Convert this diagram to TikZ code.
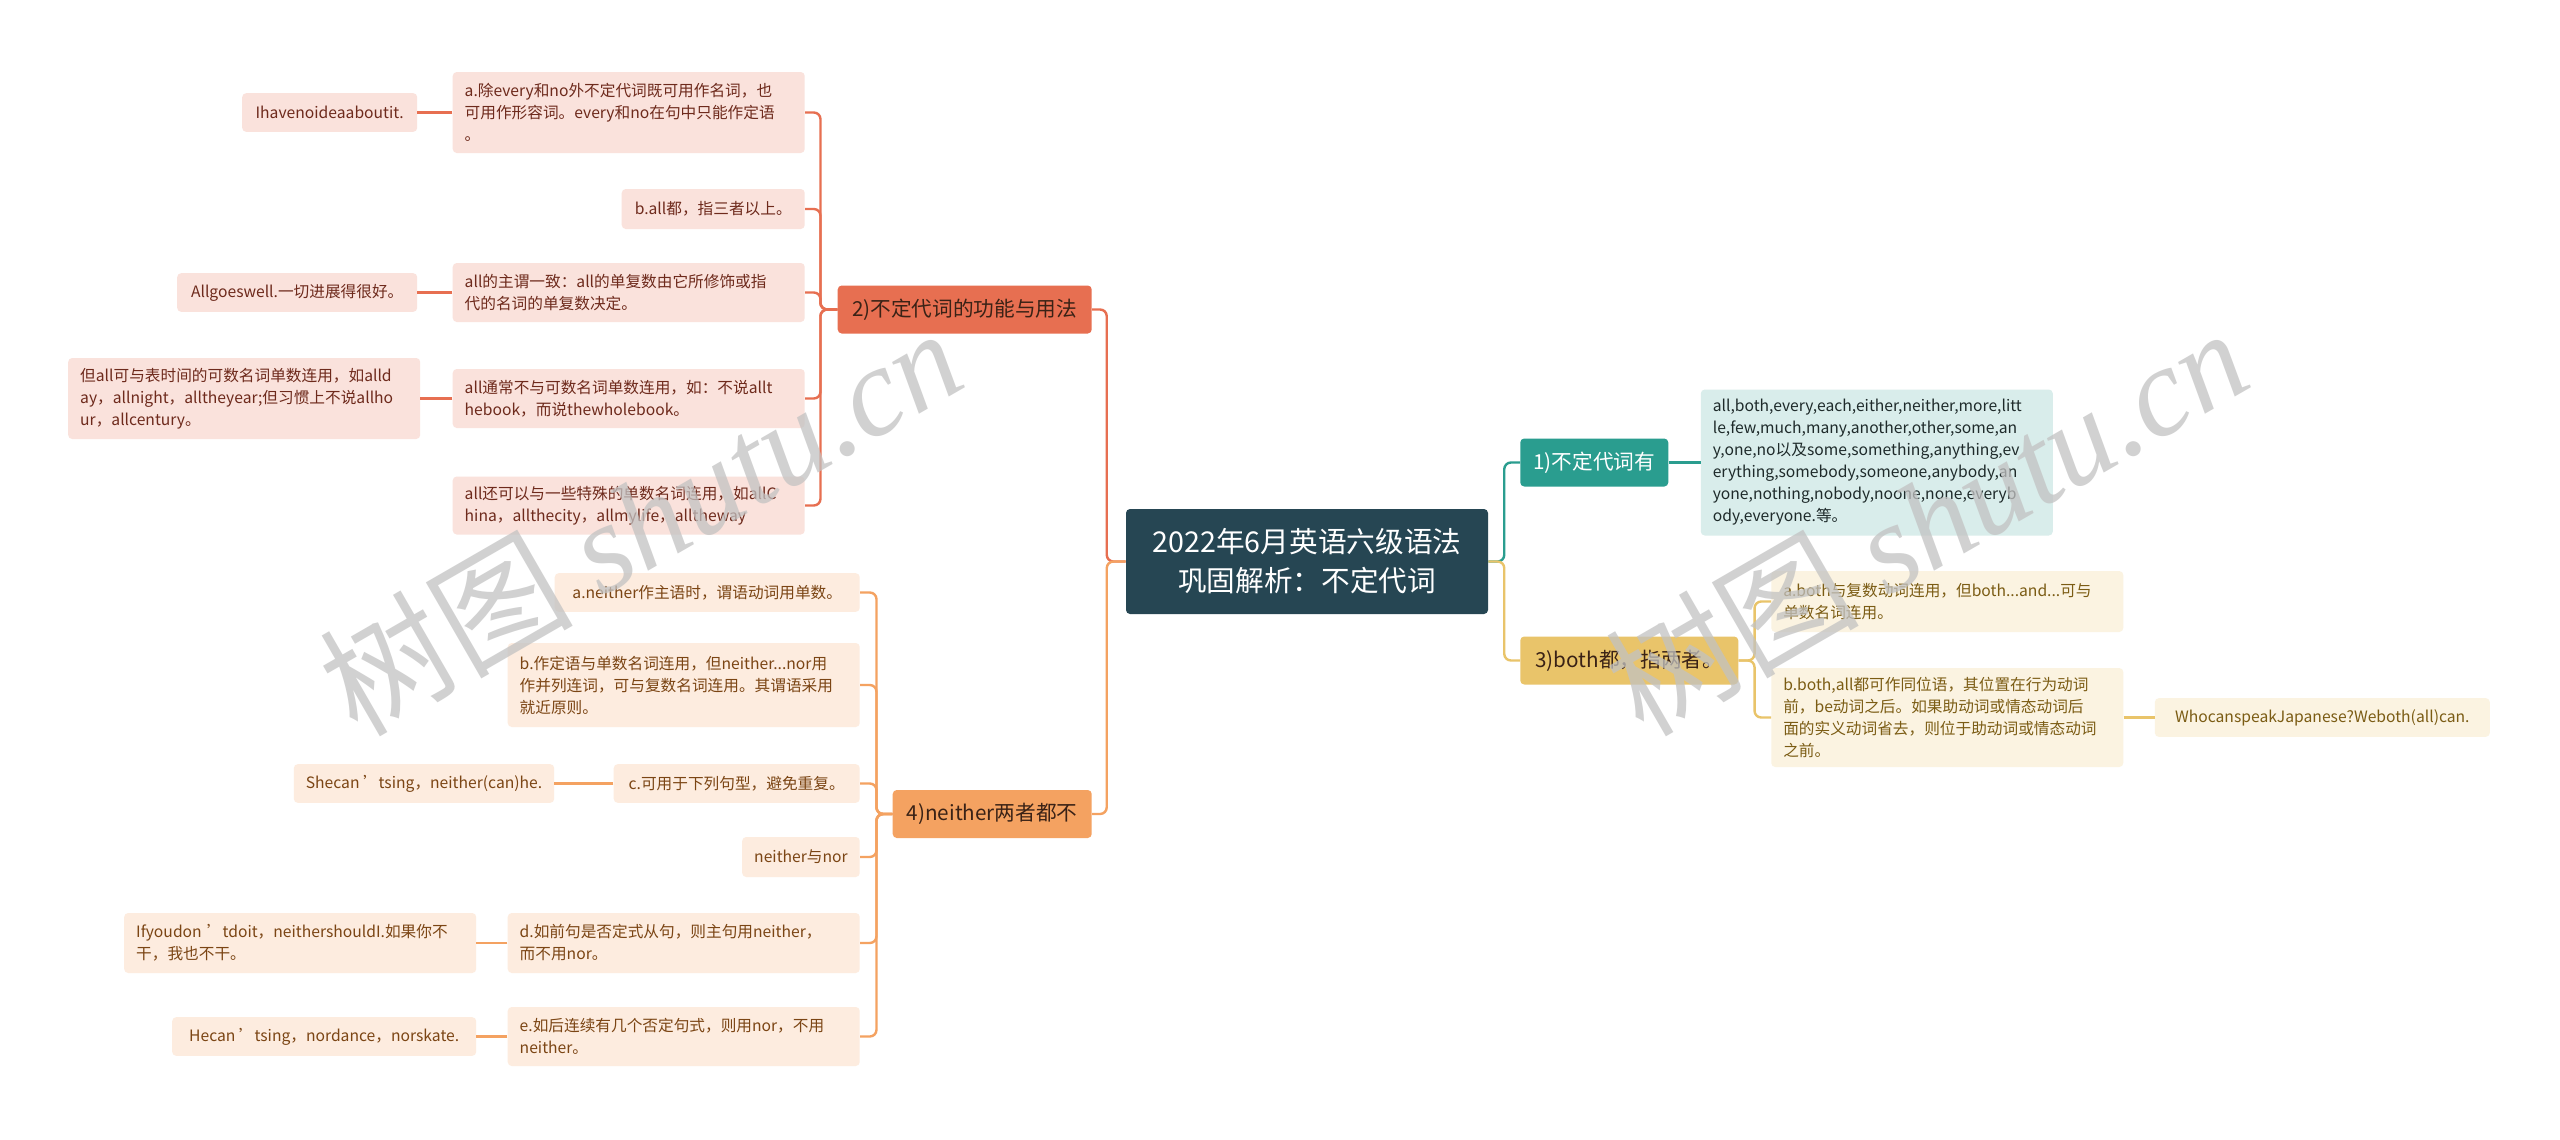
\documentclass[tikz,border=0pt]{standalone}
\usepackage{fontspec}
\setmainfont{Noto Sans CJK SC}
\newfontfamily\markserif{Liberation Serif}
\usepackage{xcolor}
\usepackage{tikz}
\usetikzlibrary{positioning}
\definecolor{rootc}{HTML}{264653}
\definecolor{c1}{HTML}{2A9D8F}
\definecolor{c2}{HTML}{E76F51}
\definecolor{c3}{HTML}{E9C46A}
\definecolor{c4}{HTML}{F4A261}
\definecolor{t1}{HTML}{1E2A2A}
\definecolor{t2}{HTML}{6E2A1C}
\definecolor{t3}{HTML}{7B5C14}
\definecolor{t4}{HTML}{7B4514}
\definecolor{bt}{HTML}{3A2216}
\newcommand{\leaffont}{\fontsize{11.75pt}{16.5pt}\selectfont}
\newcommand{\branchfont}{\fontsize{15.5pt}{18pt}\selectfont}
\newcommand{\rootfont}{\fontsize{21.5pt}{29.25pt}\selectfont}
\newcommand{\markfont}{\fontsize{95pt}{95pt}\selectfont}
\tikzstyle{rootbox} = [rectangle, rounded corners=3pt, fill=rootc, text=white, font=\rootfont, align=center, minimum width=271.5pt, minimum height=78.75pt, inner sep=0pt]
\tikzstyle{branch} = [rectangle, rounded corners=3pt, font=\branchfont, minimum height=36pt, inner sep=0pt]
\tikzstyle{leaf} = [rectangle, rounded corners=3pt, font=\leaffont, align=left, inner xsep=9pt, inner ysep=0pt, minimum height=29pt]
\tikzstyle{wide} = [text width=246pt]
\tikzstyle{leaf1} = [leaf, fill=c1!18, text=t1]
\tikzstyle{leaf2} = [leaf, fill=c2!20, text=t2]
\tikzstyle{leaf3} = [leaf, fill=c3!20, text=t3]
\tikzstyle{leaf4} = [leaf, fill=c4!20, text=t4]
\tikzstyle{link1} = [draw=c1, line width=1.8pt, rounded corners=5pt]
\tikzstyle{link2} = [draw=c2, line width=1.8pt, rounded corners=5pt]
\tikzstyle{link3} = [draw=c3, line width=1.8pt, rounded corners=5pt]
\tikzstyle{link4} = [draw=c4, line width=1.8pt, rounded corners=5pt]
\tikzstyle{wmark} = [font=\markfont, text=black!24, text opacity=0.75, rotate=30]

\begin{document}
\begin{tikzpicture}[x=0.75pt, y=-0.75pt]
                  \path [fill=white] (0,0) rectangle (2560,1139);
                  \useasboundingbox (0,0) rectangle (2560,1139);
                  \node (root) [rootbox] at (1307,561.5) {2022年6月英语六级语法\\巩固解析：不定代词};

                  \node (b1) [branch, fill=c1, text=white, minimum width=111pt, anchor=west] at (1520,462.5) {1)不定代词有};
                  \node (b1c) [leaf1, wide, minimum height=109.5pt, right=24pt of b1] {all,both,every,each,either,neither,more,litt\\le,few,much,many,another,other,some,an\\y,one,no以及some,something,anything,ev\\erything,somebody,someone,anybody,an\\yone,nothing,nobody,noone,none,everyb\\ody,everyone.等。};

                  \node (b3) [branch, fill=c3, text=bt, minimum width=163.5pt, anchor=west] at (1520,660.5) {3)both都，指两者。};
                  \node (b3a) [leaf3, wide, minimum height=45.75pt, anchor=west] at (1771,601.5) {a.both与复数动词连用，但both...and...可与\\单数名词连用。};
                  \node (b3b) [leaf3, wide, minimum height=74.25pt, anchor=west] at (1771,717.5) {b.both,all都可作同位语，其位置在行为动词\\前，be动词之后。如果助动词或情态动词后\\面的实义动词省去，则位于助动词或情态动词\\之前。};
                  \node (b3bc) [leaf3, minimum width=251.25pt, right=23.25pt of b3b] {WhocanspeakJapanese?Weboth(all)can.};

                  \node (b2) [branch, fill=c2, text=bt, minimum width=190.5pt, anchor=east] at (1092,309.5) {2)不定代词的功能与用法};
                  \node (b2a) [leaf2, wide, minimum height=60.75pt, anchor=east] at (805,112.5) {a.除every和no外不定代词既可用作名词，也\\可用作形容词。every和no在句中只能作定语\\。};
                  \node (b2ac) [leaf2, minimum width=131.25pt, left=26.25pt of b2a] {Ihavenoideaaboutit.};
                  \node (b2b) [leaf2, minimum width=137.25pt, minimum height=30pt, anchor=east] at (805,209) {b.all都，指三者以上。};
                  \node (b2c) [leaf2, wide, minimum height=44.25pt, anchor=east] at (805,292.5) {all的主谓一致：all的单复数由它所修饰或指\\代的名词的单复数决定。};
                  \node (b2cc) [leaf2, minimum width=180pt, left=26.25pt of b2c] {Allgoeswell.一切进展得很好。};
                  \node (b2d) [leaf2, wide, minimum height=44.25pt, anchor=east] at (805,398.5) {all通常不与可数名词单数连用，如：不说allt\\hebook，而说thewholebook。};
                  \node (b2dc) [leaf2, wide, minimum height=60.75pt, left=24pt of b2d] {但all可与表时间的可数名词单数连用，如alld\\ay，allnight，alltheyear;但习惯上不说allho\\ur，allcentury。};
                  \node (b2e) [leaf2, wide, minimum height=43.5pt, anchor=east] at (805,505.5) {all还可以与一些特殊的单数名词连用，如allC\\hina，allthecity，allmylife，alltheway};

                  \node (b4) [branch, fill=c4, text=bt, minimum width=149.25pt, anchor=east] at (1092,814) {4)neither两者都不};
                  \node (b4a) [leaf4, minimum width=228.75pt, anchor=east] at (860,592.5) {a.neither作主语时，谓语动词用单数。};
                  \node (b4b) [leaf4, wide, minimum height=63pt, anchor=east] at (860,685) {b.作定语与单数名词连用，但neither...nor用\\作并列连词，可与复数名词连用。其谓语采用\\就近原则。};
                  \node (b4c) [leaf4, minimum width=184.5pt, anchor=east] at (860,783.5) {c.可用于下列句型，避免重复。};
                  \node (b4cc) [leaf4, minimum width=178.5pt, left=44.25pt of b4c] {Shecan ’tsing，neither(can)he.};
                  \node (b4n) [leaf4, minimum width=86.25pt, minimum height=30pt, anchor=east] at (860,857) {neither与nor};
                  \node (b4d) [leaf4, wide, minimum height=45pt, anchor=east] at (860,943) {d.如前句是否定式从句，则主句用neither，\\而不用nor。};
                  \node (b4dc) [leaf4, wide, minimum height=45pt, left=23.25pt of b4d] {Ifyoudon ’tdoit，neithershouldI.如果你不\\干，我也不干。};
                  \node (b4e) [leaf4, wide, minimum height=44.25pt, anchor=east] at (860,1036.5) {e.如后连续有几个否定句式，则用nor，不用\\neither。};
                  \node (b4ec) [leaf4, minimum width=228pt, left=23.25pt of b4e] {Hecan ’tsing，nordance，norskate.};

                  \draw [link2] (root.west) -- ++(-19,0) |- (b2.east);
                  \draw [link4] (root.west) -- ++(-19,0) |- (b4.east);
                  \draw [link1] (root.east) -- ++(16,0) |- (b1.west);
                  \draw [link3] (root.east) -- ++(16,0) |- (b3.west);

                  \draw [link1] (b1.east) -- (b1.east -| b1c.west);

                  \draw [link3] (b3.east) -- ++(16,0) |- (b3a.west);
                  \draw [link3] (b3.east) -- ++(16,0) |- (b3b.west);
                  \draw [link3] (b3b.east) -- (b3bc.west);

                  \draw [link2] (b2.west) -- ++(-17,0) |- (b2a.east);
                  \draw [link2] (b2.west) -- ++(-17,0) |- (b2b.east);
                  \draw [link2] (b2.west) -- ++(-17,0) |- (b2c.east);
                  \draw [link2] (b2.west) -- ++(-17,0) |- (b2d.east);
                  \draw [link2] (b2.west) -- ++(-17,0) |- (b2e.east);
                  \draw [link2] (b2a.west) -- (b2ac.east);
                  \draw [link2] (b2c.west) -- (b2cc.east);
                  \draw [link2] (b2d.west) -- (b2dc.east);

                  \draw [link4] (b4.west) -- ++(-16,0) |- (b4a.east);
                  \draw [link4] (b4.west) -- ++(-16,0) |- (b4b.east);
                  \draw [link4] (b4.west) -- ++(-16,0) |- (b4c.east);
                  \draw [link4] (b4.west) -- ++(-16,0) |- (b4n.east);
                  \draw [link4] (b4.west) -- ++(-16,0) |- (b4d.east);
                  \draw [link4] (b4.west) -- ++(-16,0) |- (b4e.east);
                  \draw [link4] (b4c.west) -- (b4cc.east);
                  \draw [link4] (b4d.west) -- (b4dc.east);
                  \draw [link4] (b4e.west) -- (b4ec.east);

                  \node (mark1) [wmark] at (640,520) {树图 {\markserif\itshape shutu.cn}};
                  \node (mark2) [wmark] at (1926,520) {树图 {\markserif\itshape shutu.cn}};
              \end{tikzpicture}
\end{document}
